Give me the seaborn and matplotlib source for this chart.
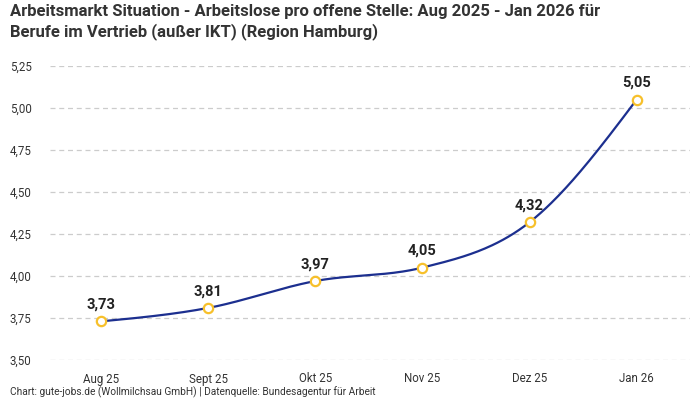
import numpy as np
import pandas as pd
import seaborn as sns
import matplotlib.pyplot as plt

# Daten
monate = ['Aug 25', 'Sept 25', 'Okt 25', 'Nov 25', 'Dez 25', 'Jan 26']
werte = [3.73, 3.81, 3.97, 4.05, 4.32, 5.05]

titel = ('Arbeitsmarkt Situation - Arbeitslose pro offene Stelle: Aug 2025 - Jan 2026 für\n'
         'Berufe im Vertrieb (außer IKT) (Region Hamburg)')
quelle = 'Chart: gute-jobs.de (Wollmilchsau GmbH) | Datenquelle: Bundesagentur für Arbeit'

LINIE = '#1c2f8f'
PUNKT = '#f7c02b'


def monotone_kurve(y, n=60):
    # monotone kubische Glättung (wie d3 curveMonotoneX), nur für die Linienform
    y = np.asarray(y, dtype=float)
    s = np.diff(y)
    t = np.zeros_like(y)
    for i in range(1, len(y) - 1):
        s0, s1 = s[i - 1], s[i]
        p = (s0 + s1) / 2
        t[i] = (np.sign(s0) + np.sign(s1)) * min(abs(s0), abs(s1), 0.5 * abs(p))
    t[0] = (3 * s[0] - t[1]) / 2
    t[-1] = (3 * s[-1] - t[-2]) / 2
    xs, ys = [], []
    for i in range(len(y) - 1):
        u = np.linspace(0, 1, n, endpoint=(i == len(y) - 2))
        h00 = 2 * u**3 - 3 * u**2 + 1
        h10 = u**3 - 2 * u**2 + u
        h01 = -2 * u**3 + 3 * u**2
        h11 = u**3 - u**2
        xs.append(i + u)
        ys.append(h00 * y[i] + h10 * t[i] + h01 * y[i + 1] + h11 * t[i + 1])
    return np.concatenate(xs), np.concatenate(ys)


sns.set_theme(style='white')
plt.rcParams['font.family'] = ['Roboto', 'DejaVu Sans']

df = pd.DataFrame({'pos': range(len(monate)), 'wert': werte})
kx, ky = monotone_kurve(werte)
kurve = pd.DataFrame({'pos': kx, 'wert': ky})

fig = plt.figure(figsize=(7, 4), dpi=100)
ax = fig.add_axes([0.071, 0.1, 0.915, 0.735])

sns.lineplot(data=kurve, x='pos', y='wert', color=LINIE, linewidth=1.6, ax=ax, zorder=3)
sns.scatterplot(data=df, x='pos', y='wert', s=45, color='white', edgecolor=PUNKT,
                linewidth=1.6, ax=ax, zorder=4)

for x, v in zip(df['pos'], werte):
    ax.annotate(f'{v:.2f}'.replace('.', ','), (x, v), xytext=(0, 7), textcoords='offset points',
                ha='center', va='bottom', fontsize=10.5, fontweight='semibold', color='#222222')

ax.set_xlim(-0.48, 5.5)
ax.set_ylim(3.5, 5.25)
ax.set_xticks(range(len(monate)))
ax.set_xticklabels(monate)
yt = np.arange(3.5, 5.26, 0.25)
ax.set_yticks(yt)
ax.set_yticklabels([f'{v:.2f}'.replace('.', ',') for v in yt])
ax.tick_params(axis='both', length=0, labelsize=8.3, labelcolor='#333333')
ax.tick_params(axis='y', pad=13)
ax.tick_params(axis='x', pad=9)
ax.set_xlabel('')
ax.set_ylabel('')
ax.grid(axis='y', linestyle=(0, (4, 3)), color='#cccccc', linewidth=0.9)
ax.set_axisbelow(True)
for sp in ax.spines.values():
    sp.set_visible(False)

fig.text(0.014, 0.99, titel, ha='left', va='top', fontsize=12, fontweight='bold',
         color='#333333', linespacing=1.3)
fig.text(0.014, 0.006, quelle, ha='left', va='bottom', fontsize=7.3, color='#333333')

fig.savefig('out.png', dpi=100)
